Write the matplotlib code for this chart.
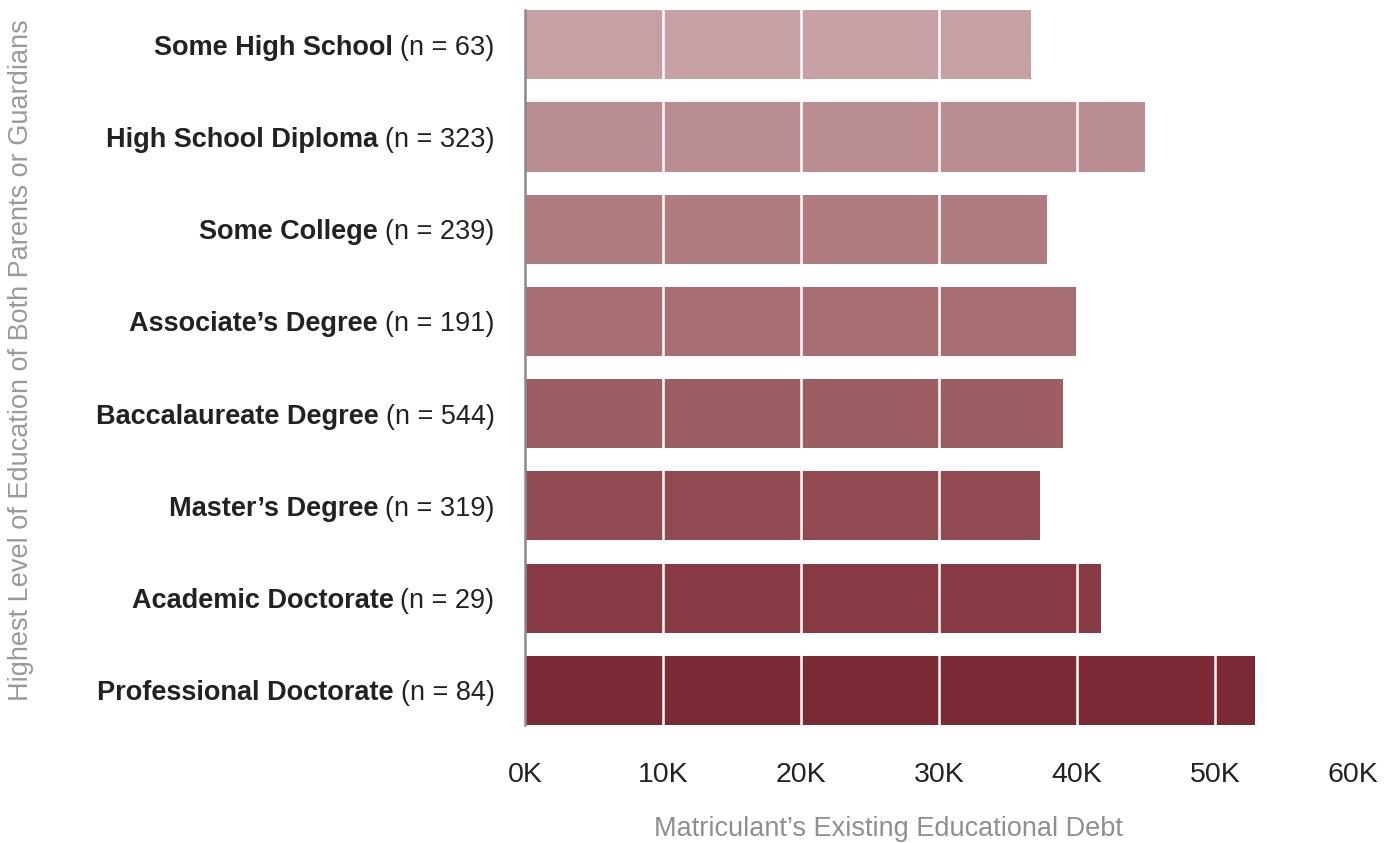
import matplotlib
matplotlib.use("Agg")
import matplotlib.pyplot as plt

# data (debt in thousands of dollars)
categories = ["Some High School", "High School Diploma", "Some College",
              "Associate\u2019s Degree", "Baccalaureate Degree", "Master\u2019s Degree",
              "Academic Doctorate", "Professional Doctorate"]
counts = [63, 323, 239, 191, 544, 319, 29, 84]
debt_k = [36.7, 44.9, 37.8, 39.9, 39.0, 37.3, 41.75, 52.9]
bar_colors = ["#C6A0A5", "#BA8D92", "#B07C80", "#A66E72",
              "#9D5E63", "#914A52", "#873944", "#7B2934"]
x_ticks = [0, 10, 20, 30, 40, 50, 60]

plt.rcParams['font.family'] = ['Liberation Sans', 'DejaVu Sans']

fig = plt.figure(figsize=(13.94, 8.43), dpi=100)
ax = fig.add_axes([0.3766, 0.140, 0.594, 0.848])

ypos = list(range(len(categories)))
ax.barh(ypos, debt_k, height=0.75, color=bar_colors, zorder=1)

# white grid lines on top of the bars
for t in x_ticks[1:-1]:
    ax.axvline(t, color="white", lw=1.8, zorder=2)

ax.set_xlim(0, 60)
ax.set_ylim(len(categories) - 0.625, -0.375)
ax.set_xticks(x_ticks)
ax.set_xticklabels([f"{t}K" for t in x_ticks], fontsize=20.5, color="#222222")
ax.tick_params(axis="x", length=0, pad=27)
ax.set_yticks([])

for s in ["top", "right", "bottom"]:
    ax.spines[s].set_visible(False)
ax.spines["left"].set_color("#8a8a8a")
ax.spines["left"].set_linewidth(1.8)
ax.spines["left"].set_zorder(3)

# category labels: bold name + normal count
for i, (cat, n) in enumerate(zip(categories, counts)):
    normal = ax.annotate(f"(n = {n})", xy=(0, i), xycoords=("axes fraction", "data"),
                         xytext=(-22, 0), textcoords="offset points",
                         ha="right", va="center_baseline", fontsize=19.5, color="#222222")
    ax.annotate(cat, xy=(0, i), xycoords=(normal, "data"),
                xytext=(-5, 0), textcoords="offset points",
                ha="right", va="center_baseline", fontsize=19.5,
                fontweight="bold", color="#222222")

fig.text(0.637, 0.017, "Matriculant\u2019s Existing Educational Debt",
         ha="center", va="center", fontsize=19.5, color="#8f8f8f")
fig.text(0.015, 0.573, "Highest Level of Education of Both Parents or Guardians",
         ha="center", va="center", rotation=90, fontsize=19.5, color="#9a9a9a")

fig.savefig("out.png", dpi=100)
